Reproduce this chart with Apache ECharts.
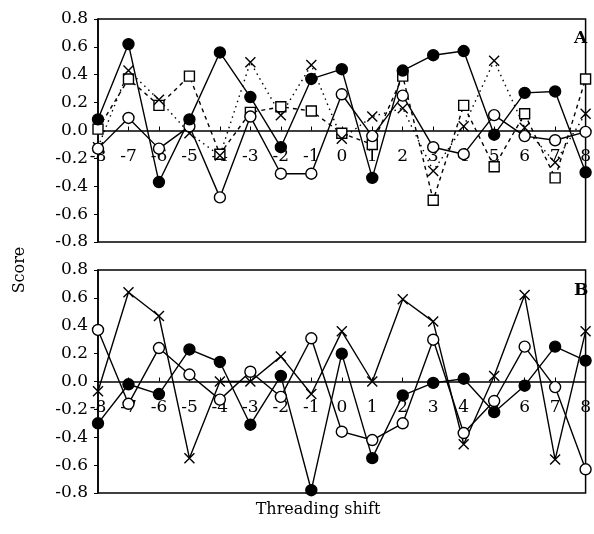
<!DOCTYPE html>
<html>
<head>
<meta charset="utf-8">
<script src="https://cdn.jsdelivr.net/npm/echarts@6/dist/echarts.min.js"></script>
<style>html,body{margin:0;padding:0;background:#fff}#c{width:594px;height:534px}</style>
</head>
<body>
<div id="c"></div>
<script>
// Threading shift categories (x values)
const shifts = [-8,-7,-6,-5,-4,-3,-2,-1,0,1,2,3,4,5,6,7,8];
// Panel A series
const aFilled = [0.08, 0.62, -0.37, 0.08, 0.56, 0.24, -0.12, 0.37, 0.44, -0.34, 0.43, 0.54, 0.57, -0.03, 0.27, 0.28, -0.30];
const aOpen   = [-0.13, 0.09, -0.13, 0.03, -0.48, 0.10, -0.31, -0.31, 0.26, -0.04, 0.25, -0.12, -0.17, 0.11, -0.04, -0.07, -0.01];
const aCross  = [-0.12, 0.43, 0.22, -0.02, -0.18, 0.49, 0.11, 0.47, -0.06, 0.10, 0.16, -0.29, 0.03, 0.50, 0.02, -0.23, 0.12];
const aSquare = [0.01, 0.37, 0.18, 0.39, -0.17, 0.13, 0.17, 0.14, -0.02, -0.10, 0.39, -0.50, 0.18, -0.26, 0.12, -0.34, 0.37];
// Panel B series
const bFilled = [-0.30, -0.02, -0.09, 0.23, 0.14, -0.31, 0.04, -0.78, 0.20, -0.55, -0.10, -0.01, 0.02, -0.22, -0.03, 0.25, 0.15];
const bOpen   = [0.37, -0.16, 0.24, 0.05, -0.13, 0.07, -0.11, 0.31, -0.36, -0.42, -0.30, 0.30, -0.37, -0.14, 0.25, -0.04, -0.63];
const bCross  = [-0.07, 0.64, 0.47, -0.55, 0.00, 0.00, 0.18, -0.09, 0.36, 0.00, 0.59, 0.43, -0.45, 0.04, 0.62, -0.56, 0.36];
// Axis ticks
const yMin = -0.8, yMax = 0.8, yStep = 0.2;
const xMin = -8, xMax = 8, xStep = 1;

const pairs = vals => shifts.map((s, i) => [s, vals[i]]);
const SERIF = 'DejaVu Serif';
const crossPath = 'path://M0,0L10,10M10,0L0,10';
const GRID_H = 223;

function xAxisCfg(gi) {
  return {
    gridIndex: gi, type: 'value', min: xMin, max: xMax, interval: xStep,
    position: 'bottom', offset: -GRID_H / 2,
    axisLine: { onZero: false, lineStyle: { color: '#000', width: 1.5 } },
    axisTick: { inside: true, length: 4, lineStyle: { color: '#000', width: 1 } },
    axisLabel: { margin: 18, color: '#000', fontFamily: SERIF, fontSize: 17, formatter: v => String(v) },
    splitLine: { show: false }
  };
}
function yAxisCfg(gi) {
  return {
    gridIndex: gi, type: 'value', min: yMin, max: yMax, interval: yStep,
    axisLine: { show: true, onZero: false, lineStyle: { color: '#000', width: 1.5 } },
    axisTick: { show: true, inside: false, length: 4, lineStyle: { color: '#000', width: 1 } },
    axisLabel: { margin: 10, color: '#000', fontFamily: SERIF, fontSize: 17, formatter: v => v.toFixed(1) },
    splitLine: { show: false }
  };
}
function line(gi, vals, symbol, fill, lineType, size) {
  return {
    type: 'line', xAxisIndex: gi, yAxisIndex: gi, data: pairs(vals),
    symbol: symbol, symbolSize: size, showSymbol: true, animation: false,
    lineStyle: { color: '#000', width: 1.4, type: lineType },
    itemStyle: { color: fill, borderColor: '#000', borderWidth: 1.4 }
  };
}

const chart = echarts.init(document.getElementById('c'), null, { renderer: 'canvas' });
chart.setOption({
  animation: false,
  backgroundColor: '#fff',
  grid: [
    { left: 98, top: 19, width: 497, height: GRID_H, show: true, borderColor: '#000', borderWidth: 1.5, backgroundColor: 'transparent' },
    { left: 98, top: 270, width: 497, height: GRID_H, show: true, borderColor: '#000', borderWidth: 1.5, backgroundColor: 'transparent' }
  ],
  xAxis: [xAxisCfg(0), xAxisCfg(1)],
  yAxis: [yAxisCfg(0), yAxisCfg(1)],
  series: [
    line(0, aSquare, 'rect', '#fff', [4, 4], 10),
    line(0, aCross, crossPath, '#000', [1.5, 4], 10),
    line(0, aOpen, 'circle', '#fff', 'solid', 11),
    line(0, aFilled, 'circle', '#000', 'solid', 11),
    line(1, bCross, crossPath, '#000', 'solid', 10),
    line(1, bOpen, 'circle', '#fff', 'solid', 11),
    line(1, bFilled, 'circle', '#000', 'solid', 11)
  ],
  graphic: [
    { type: 'text', left: 574, top: 30, style: { text: 'A', font: 'bold 17px "DejaVu Serif"', fill: '#000' } },
    { type: 'text', left: 574, top: 282, style: { text: 'B', font: 'bold 17px "DejaVu Serif"', fill: '#000' } },
    { type: 'text', x: 20, y: 270, rotation: Math.PI / 2, style: { text: 'Score', font: '16px "DejaVu Serif"', fill: '#000', align: 'center', verticalAlign: 'middle' } },
    { type: 'text', x: 318, y: 510, style: { text: 'Threading shift', font: '16px "DejaVu Serif"', fill: '#000', align: 'center', verticalAlign: 'middle' } }
  ]
});
</script>
</body>
</html>
